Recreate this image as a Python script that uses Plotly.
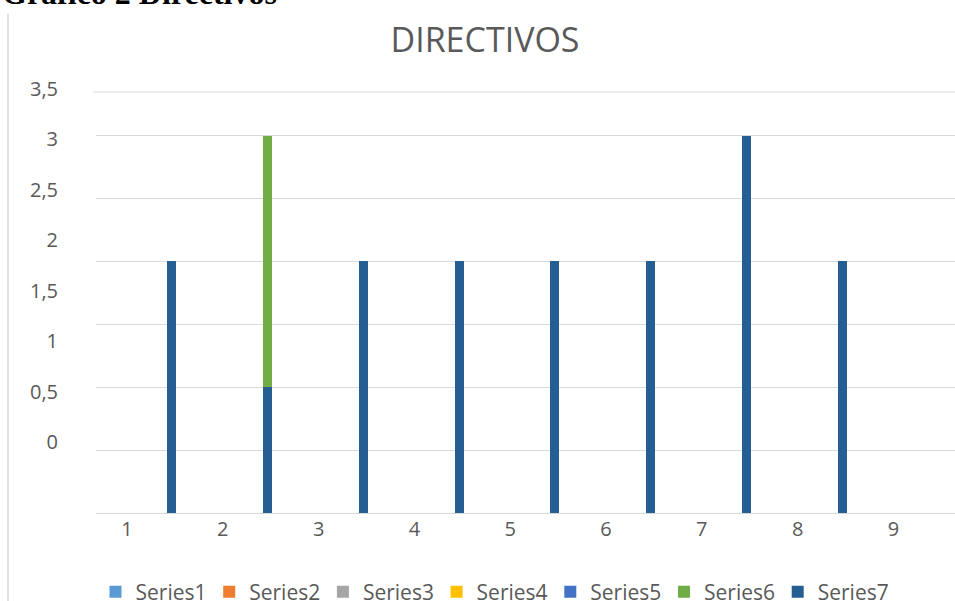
import plotly.graph_objects as go

categories = [1, 2, 3, 4, 5, 6, 7, 8, 9]
series_names = ["Series1", "Series2", "Series3", "Series4", "Series5", "Series6", "Series7"]
series1 = [None] * 9
series2 = [None] * 9
series3 = [None] * 9
series4 = [None] * 9
series5 = [None] * 9
series6 = [None, 2, None, None, None, None, None, None, None]
series7 = [2, 1, 2, 2, 2, 2, 3, 2, None]
y_tick_labels = [0, 0.5, 1, 1.5, 2, 2.5, 3, 3.5]

colors = ["#5B9BD5", "#ED7D31", "#A5A5A5", "#FFC000", "#4472C4", "#70AD47", "#255E91"]
values = [series1, series2, series3, series4, series5, series6, series7]

W, H = 955, 601
L, R, T, B = 96, 0, 80, 88
PW, PH = W - L - R, H - T - B

FONT = "Open Sans"
GREY = "#595959"
GRID = "#D9D9D9"

fig = go.Figure()
# stacking order: Series7 at bottom, then Series6 on top; legend keeps 1..7 order
order = [0, 1, 2, 3, 4, 6, 5]
for i in order:
    fig.add_trace(go.Bar(
        x=categories, y=values[i], name=series_names[i],
        marker=dict(color=colors[i], line=dict(width=0)),
        width=0.094, offset=0.42, legendrank=i + 1,
        hoverinfo="skip",
    ))

# carrier for the label axis
fig.add_trace(go.Scatter(x=[None], y=[None], yaxis="y2", showlegend=False,
                         hoverinfo="skip"))

px_per_unit_grid = 125.77
px_per_unit_lbl = 100.86

fig.update_layout(
    width=W, height=H,
    margin=dict(l=L, r=R, t=T, b=B, pad=0, autoexpand=False),
    paper_bgcolor="white", plot_bgcolor="white",
    barmode="stack",
    separators=",.",
    font=dict(family=FONT, color=GREY, size=20),
    title=dict(text="DIRECTIVOS", x=485 / W, xanchor="center",
               y=1 - 40 / H, yanchor="middle",
               font=dict(family=FONT, size=34, color=GREY)),
    xaxis=dict(
        range=[1 - 31 / 95.8, 1 + (W - 127) / 95.8],
        tickvals=categories, ticktext=[str(c) for c in categories],
        showgrid=False, zeroline=False,
        showline=True, linecolor=GRID, linewidth=1,
        ticks="", ticklabelstandoff=-2,
        tickfont=dict(size=20, color=GREY),
        fixedrange=True,
    ),
    yaxis=dict(
        range=[0, PH / px_per_unit_grid],
        dtick=0.5, tick0=0,
        showgrid=True, gridcolor=GRID, gridwidth=1,
        zeroline=False, showticklabels=False, ticks="",
        fixedrange=True,
    ),
    yaxis2=dict(
        overlaying="y", side="left", anchor="x",
        range=[-(513 - 442) / px_per_unit_lbl, 3.5 + (89 - 80) / px_per_unit_lbl],
        tickvals=y_tick_labels,
        showgrid=False, zeroline=False, showline=False, ticks="",
        ticklabelstandoff=37,
        tickfont=dict(size=20, color=GREY),
        fixedrange=True,
    ),
    legend=dict(
        orientation="h", x=(493.5 - L) / PW, xanchor="center",
        y=(513 - 592) / PH, yanchor="middle",
        font=dict(size=21, color=GREY), itemclick=False,
        traceorder="normal",
        entrywidth=68.7, entrywidthmode="pixels",
    ),
    showlegend=True,
    shapes=[
        # top border line of plot area
        dict(type="line", xref="paper", yref="paper",
             x0=-3 / PW, x1=1, y0=(513 - 92) / PH, y1=(513 - 92) / PH,
             line=dict(color=GRID, width=1)),
        # left frame of chart area
        dict(type="line", xref="paper", yref="paper",
             x0=(8 - L) / PW, x1=(8 - L) / PW,
             y0=(513 - 14) / PH, y1=(513 - 601) / PH,
             line=dict(color=GRID, width=1.5)),
    ],
    annotations=[
        dict(text="<b>Gráfico 2 Directivos</b>", xref="paper", yref="paper",
             x=(0 - L) / PW, xanchor="left", y=(513 - 13.5) / PH, yanchor="bottom",
             showarrow=False,
             font=dict(family="Liberation Serif", size=32, color="black")),
    ],
)

fig.write_html(
    "out.html",
    config={"displayModeBar": False},
    post_script="document.body.style.margin='0';document.body.style.overflow='hidden';",
)
